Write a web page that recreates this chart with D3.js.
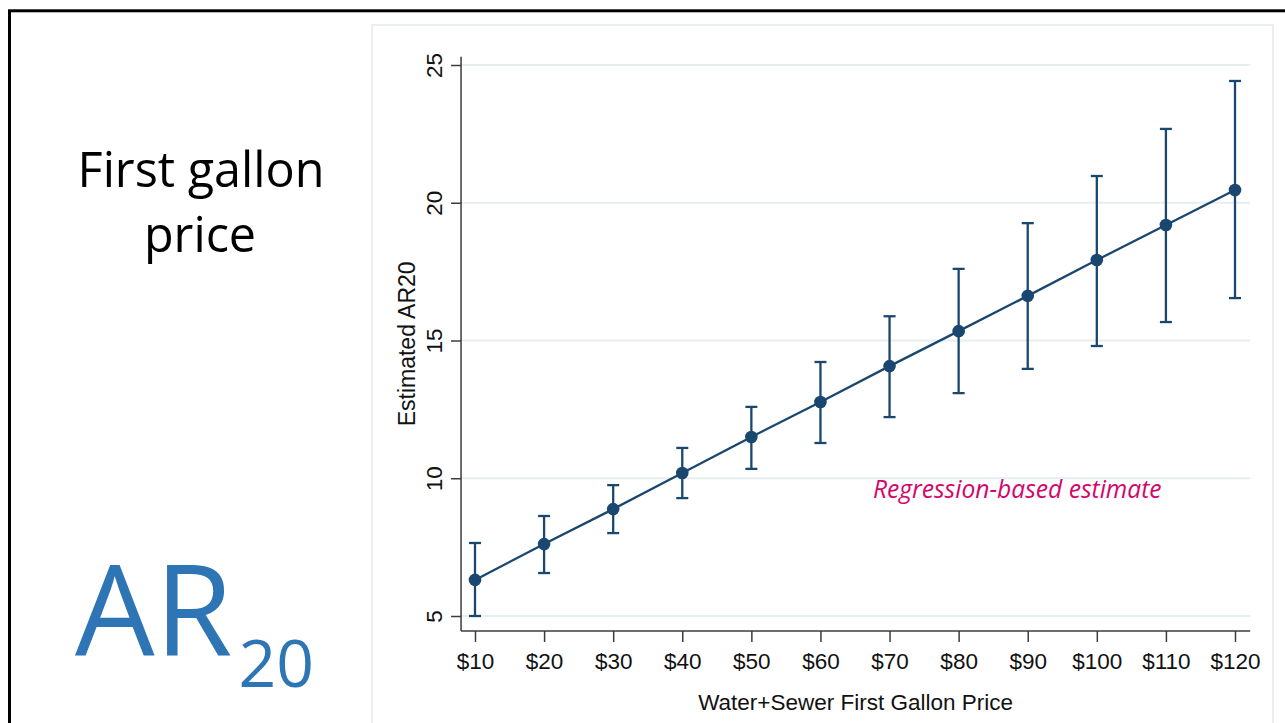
<!DOCTYPE html>
<html>
<head>
<meta charset="utf-8">
<script src="https://cdn.jsdelivr.net/npm/d3@7"></script>
<style>
  html, body { margin: 0; padding: 0; background: #ffffff; }
  svg { display: block; }
</style>
</head>
<body>
<svg id="chart" width="1285" height="723"></svg>
<script>
// ---- data ----
const prices = [10, 20, 30, 40, 50, 60, 70, 80, 90, 100, 110, 120];
const estimates = [6.31, 7.61, 8.88, 10.19, 11.50, 12.77, 14.07, 15.34, 16.62, 17.92, 19.19, 20.46];
const ciLow  = [5.00, 6.56, 8.01, 9.28, 10.34, 11.28, 12.22, 13.09, 13.97, 14.80, 15.67, 16.54];
const ciHigh = [7.65, 8.63, 9.75, 11.10, 12.59, 14.22, 15.88, 17.60, 19.26, 20.97, 22.68, 24.42];
const xTickValues = [10, 20, 30, 40, 50, 60, 70, 80, 90, 100, 110, 120];
const xTickLabels = ["$10", "$20", "$30", "$40", "$50", "$60", "$70", "$80", "$90", "$100", "$110", "$120"];
const yTickValues = [5, 10, 15, 20, 25];
const yTickLabels = ["5", "10", "15", "20", "25"];
const xTitle = "Water+Sewer First Gallon Price";
const yTitle = "Estimated AR20";
const noteText = "Regression-based estimate";
const notePos = [67.6, 9.28];
const sideTitle = ["First gallon", "price"];

// ---- setup ----
const svg = d3.select("#chart");
const navy = "#1a476f";
const axisColor = "#3c3c3c";
const gridColor = "#e6eef0";
const sans = "'Liberation Sans', Arial, sans-serif";
const fs = 22.5;

// outer slide frame
svg.append("rect").attr("x", 9.5).attr("y", 10.8).attr("width", 1400).attr("height", 900)
  .attr("fill", "none").attr("stroke", "#000").attr("stroke-width", 3);
// graph region border
svg.append("rect").attr("x", 372).attr("y", 25).attr("width", 901).attr("height", 900)
  .attr("fill", "#fff").attr("stroke", "#e3ebee").attr("stroke-width", 1.5);

const x = d3.scaleLinear().domain([10, 120]).range([475, 1235]);
const y = d3.scaleLinear().domain([5, 25]).range([616, 65]);
const xLo = 7.98, xHi = 122.2, yLo = 4.456, yHi = 25.3;

// gridlines
svg.append("g").selectAll("line").data(yTickValues).join("line")
  .attr("x1", x(xLo)).attr("x2", x(xHi))
  .attr("y1", d => y(d)).attr("y2", d => y(d))
  .attr("stroke", gridColor).attr("stroke-width", 2);

// x axis
const xAxis = d3.axisBottom(x).tickValues(xTickValues)
  .tickFormat((d, i) => xTickLabels[i]).tickSize(11).tickSizeOuter(0);
const gx = svg.append("g").attr("transform", `translate(0,${y(yLo)})`).call(xAxis);
gx.select(".domain").remove();
gx.selectAll(".tick line").attr("stroke", axisColor).attr("stroke-width", 1.5);
gx.selectAll(".tick text").attr("font-family", sans)
  .attr("font-size", fs).attr("fill", "#111").attr("y", 0).attr("dy", 0)
  .attr("transform", "translate(0,38)");
svg.append("line").attr("x1", x(xLo)).attr("x2", x(xHi)).attr("y1", y(yLo)).attr("y2", y(yLo))
  .attr("stroke", axisColor).attr("stroke-width", 1.5);

// y axis
const yAxis = d3.axisLeft(y).tickValues(yTickValues)
  .tickFormat((d, i) => yTickLabels[i]).tickSize(10).tickSizeOuter(0);
const gy = svg.append("g").attr("transform", `translate(${x(xLo)},0)`).call(yAxis);
gy.select(".domain").remove();
gy.selectAll(".tick line").attr("stroke", axisColor).attr("stroke-width", 1.5);
gy.selectAll(".tick text").attr("font-family", sans)
  .attr("font-size", fs).attr("fill", "#111").attr("x", 0).attr("dy", 0)
  .attr("text-anchor", "middle")
  .attr("transform", "translate(-19,0) rotate(-90)");
svg.append("line").attr("x1", x(xLo)).attr("x2", x(xLo)).attr("y1", y(yLo)).attr("y2", y(yHi))
  .attr("stroke", axisColor).attr("stroke-width", 1.5);

// axis titles
svg.append("text").attr("x", (x(xLo) + x(xHi)) / 2).attr("y", 710)
  .attr("text-anchor", "middle").attr("font-family", sans)
  .attr("font-size", fs).attr("fill", "#111").text(xTitle);
svg.append("text").attr("transform", `translate(415,${(y(yLo) + y(yHi)) / 2}) rotate(-90)`)
  .attr("text-anchor", "middle").attr("font-family", sans)
  .attr("font-size", 23).attr("fill", "#111").text(yTitle);

// data
const pts = prices.map((p, i) => ({ p, est: estimates[i], lo: ciLow[i], hi: ciHigh[i] }));
const cap = 6;
const eb = svg.append("g").attr("stroke", navy).attr("stroke-width", 2.3);
eb.selectAll("line.v").data(pts).join("line").attr("class", "v")
  .attr("x1", d => x(d.p)).attr("x2", d => x(d.p)).attr("y1", d => y(d.lo)).attr("y2", d => y(d.hi));
eb.selectAll("line.t").data(pts).join("line").attr("class", "t")
  .attr("x1", d => x(d.p) - cap).attr("x2", d => x(d.p) + cap).attr("y1", d => y(d.hi)).attr("y2", d => y(d.hi));
eb.selectAll("line.b").data(pts).join("line").attr("class", "b")
  .attr("x1", d => x(d.p) - cap).attr("x2", d => x(d.p) + cap).attr("y1", d => y(d.lo)).attr("y2", d => y(d.lo));

svg.append("path").datum(pts)
  .attr("d", d3.line().x(d => x(d.p)).y(d => y(d.est)))
  .attr("fill", "none").attr("stroke", navy).attr("stroke-width", 2.3);
svg.append("g").selectAll("circle").data(pts).join("circle")
  .attr("cx", d => x(d.p)).attr("cy", d => y(d.est)).attr("r", 6.3).attr("fill", navy);

// annotation
svg.append("text").attr("x", x(notePos[0])).attr("y", y(notePos[1]))
  .attr("font-family", "'Open Sans', sans-serif").attr("font-style", "italic")
  .attr("font-size", 24.6).attr("fill", "#d4066b").text(noteText);

// side titles
const st = svg.append("text").attr("text-anchor", "middle")
  .attr("font-family", "'Open Sans', sans-serif").attr("font-size", 48.5).attr("fill", "#000");
st.append("tspan").attr("x", 201).attr("y", 187).text(sideTitle[0]);
st.append("tspan").attr("x", 200).attr("y", 252).text(sideTitle[1]);

const ar = svg.append("text").attr("x", 75).attr("y", 656)
  .attr("font-family", "'Open Sans', sans-serif").attr("fill", "#2e75b6");
ar.append("tspan").attr("font-size", 126).text("AR");
ar.append("tspan").attr("font-size", 66).attr("dx", 6).attr("dy", 31).text("20");
</script>
</body>
</html>
